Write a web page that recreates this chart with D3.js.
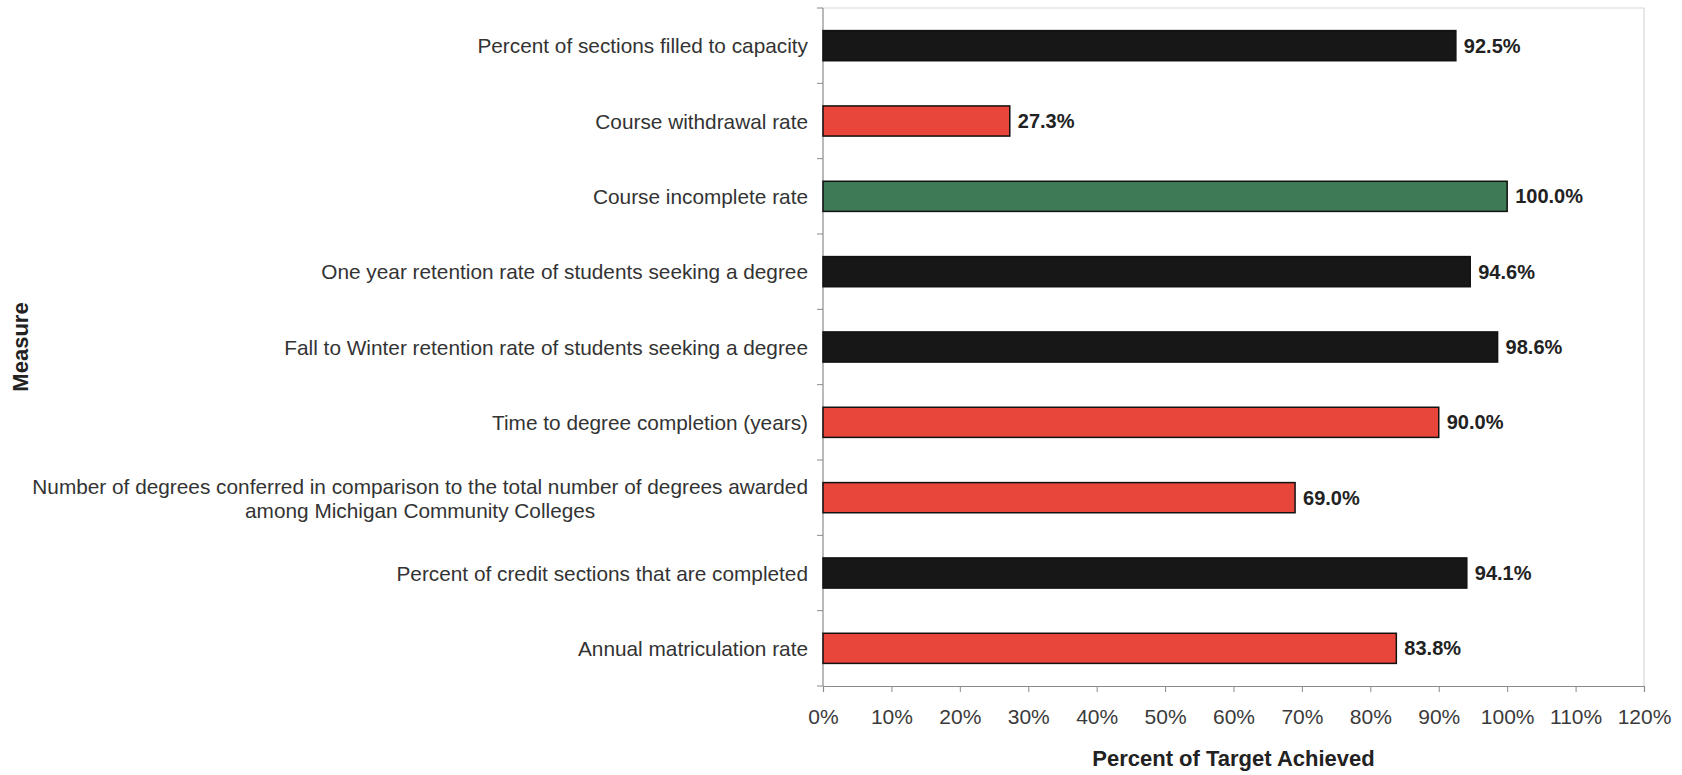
<!DOCTYPE html>
<html>
<head>
<meta charset="utf-8">
<script src="https://cdn.jsdelivr.net/npm/d3@7"></script>
<style>
  html, body { margin: 0; padding: 0; background: #fff; }
  svg { display: block; font-family: "Liberation Sans", Arial, sans-serif; }
</style>
</head>
<body>
<svg id="chart" width="1682" height="775"></svg>
<script>
// Performance measures, listed top to bottom
const measures = [
  ["Percent of sections filled to capacity"],
  ["Course withdrawal rate"],
  ["Course incomplete rate"],
  ["One year retention rate of students seeking a degree"],
  ["Fall to Winter retention rate of students seeking a degree"],
  ["Time to degree completion (years)"],
  ["Number of degrees conferred in comparison to the total number of degrees awarded", "among Michigan Community Colleges"],
  ["Percent of credit sections that are completed"],
  ["Annual matriculation rate"]
];
// Percent of target achieved for each measure
const achieved = [92.5, 27.3, 100.0, 94.6, 98.6, 90.0, 69.0, 94.1, 83.8];
// Status of each measure: drives the bar colour
const status = ["near", "below", "met", "near", "near", "below", "below", "near", "below"];
const tickValues = [0, 10, 20, 30, 40, 50, 60, 70, 80, 90, 100, 110, 120];

const statusColor = { near: "#171717", below: "#e8463a", met: "#3f7a56" };

const svg = d3.select("#chart");
const plot = { left: 823, right: 1644, top: 8, bottom: 686 };

const x = d3.scaleLinear().domain([0, 120]).range([plot.left, plot.right]);
const y = d3.scaleBand()
  .domain(d3.range(measures.length))
  .range([plot.top, plot.bottom])
  .paddingInner(0.6)
  .paddingOuter(0.3);

// light frame on top and right of the plot area
svg.append("path")
  .attr("d", `M${plot.left},${plot.top}H${plot.right}V${plot.bottom}`)
  .attr("fill", "none")
  .attr("stroke", "#d8d8d8")
  .attr("stroke-width", 1.2);

// x axis
const xAxis = svg.append("g")
  .attr("transform", `translate(0,${plot.bottom})`)
  .call(d3.axisBottom(x).tickValues(tickValues).tickSize(6).tickPadding(17)
    .tickFormat(d => d + "%"));
xAxis.select(".domain").attr("stroke", "#8a8a8a").attr("stroke-width", 1.2);
xAxis.selectAll(".tick line").attr("stroke", "#8a8a8a");
xAxis.selectAll(".tick text")
  .attr("fill", "#3a3a3a")
  .style("font-size", "21px")
  .style("font-family", "'Liberation Sans', Arial, sans-serif");

// y axis: category boundaries carry the ticks, labels are drawn separately
const yAxisG = svg.append("g").attr("transform", `translate(${plot.left},0)`);
yAxisG.append("line")
  .attr("x1", 0).attr("x2", 0)
  .attr("y1", plot.top).attr("y2", plot.bottom)
  .attr("stroke", "#8a8a8a").attr("stroke-width", 1.2);
const boundaries = d3.range(measures.length + 1).map(i => plot.top + (plot.bottom - plot.top) * i / measures.length);
yAxisG.selectAll("line.tick")
  .data(boundaries)
  .join("line")
  .attr("class", "tick")
  .attr("x1", -6).attr("x2", 0)
  .attr("y1", d => d).attr("y2", d => d)
  .attr("stroke", "#8a8a8a");

// category labels, right aligned; wrapped labels are centred as a block
const labelRight = 808;
const lineHeight = 24;
const labelG = svg.append("g")
  .style("font-size", "20.8px")
  .attr("fill", "#333");
measures.forEach((lines, i) => {
  const cy = y(i) + y.bandwidth() / 2;
  const t = labelG.append("text").attr("dominant-baseline", "central");
  if (lines.length === 1) {
    t.attr("x", labelRight).attr("y", cy).attr("text-anchor", "end").text(lines[0]);
  } else {
    lines.forEach((ln, k) => {
      t.append("tspan").attr("x", 0)
        .attr("y", cy + (k - (lines.length - 1) / 2) * lineHeight)
        .text(ln);
    });
    const widths = [];
    t.selectAll("tspan").each(function () { widths.push(this.getComputedTextLength()); });
    const blockW = d3.max(widths);
    t.attr("text-anchor", "middle");
    t.selectAll("tspan").attr("x", labelRight - blockW / 2);
  }
});

// bars
svg.append("g")
  .selectAll("rect")
  .data(achieved)
  .join("rect")
  .attr("x", x(0))
  .attr("y", (d, i) => y(i))
  .attr("width", d => x(d) - x(0))
  .attr("height", y.bandwidth())
  .attr("fill", (d, i) => statusColor[status[i]])
  .attr("stroke", "#111")
  .attr("stroke-width", 1.5);

// value labels
svg.append("g")
  .selectAll("text")
  .data(achieved)
  .join("text")
  .attr("x", d => x(d) + 8)
  .attr("y", (d, i) => y(i) + y.bandwidth() / 2)
  .attr("dominant-baseline", "central")
  .attr("fill", "#222")
  .style("font-size", "20px")
  .style("font-weight", "bold")
  .text(d => d.toFixed(1) + "%");

// axis titles
svg.append("text")
  .attr("x", (plot.left + plot.right) / 2)
  .attr("y", 766)
  .attr("text-anchor", "middle")
  .attr("fill", "#222")
  .style("font-size", "22px")
  .style("font-weight", "bold")
  .text("Percent of Target Achieved");

svg.append("text")
  .attr("transform", `translate(20,${(plot.top + plot.bottom) / 2}) rotate(-90)`)
  .attr("text-anchor", "middle")
  .attr("dominant-baseline", "central")
  .attr("fill", "#222")
  .style("font-size", "22px")
  .style("font-weight", "bold")
  .text("Measure");
</script>
</body>
</html>
